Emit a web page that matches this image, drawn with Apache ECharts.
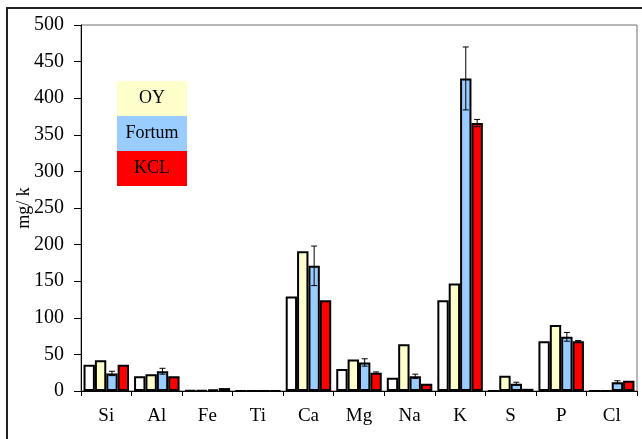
<!DOCTYPE html>
<html>
<head>
<meta charset="utf-8">
<script src="https://cdn.jsdelivr.net/npm/echarts@6/dist/echarts.min.js"></script>
<style>html,body{margin:0;padding:0;background:#fff}#c{width:642px;height:439px}</style>
</head>
<body>
<div id="c"></div>
<script>
var categories = ['Si','Al','Fe','Ti','Ca','Mg','Na','K','S','P','Cl'];
var yTicks = [0,50,100,150,200,250,300,350,400,450,500];
var baseValues   = [36, 20, 1, 0.3, 129, 30, 18, 124, 0, 68, 0];
var oyValues     = [42, 23, 1, 0.3, 191, 43, 64, 147, 21, 90, 0];
var fortumValues = [24, 27, 2, 0.3, 171, 39, 20, 427, 10, 74, 12];
var kclValues    = [36, 20, 4, 0.3, 124, 25, 10, 366, 3, 68, 14];
var fortumErr    = [3, 4, 0, 0, 27, 5, 3, 43, 2, 6, 2];
var kclErr       = [0, 0, 0, 0, 0, 1, 0, 5, 0, 1, 0];

var chart = echarts.init(document.getElementById('c'));
var serif = '"Liberation Serif", "DejaVu Serif", serif';
var barCatGap = 0.1;

function errSeries(name, values, errs, slot) {
  return {
    type: 'custom',
    name: name + ' err',
    z: 10,
    data: values.map(function (v, i) { return [i, v, errs[i]]; }),
    renderItem: function (params, api) {
      var e = api.value(2);
      if (!e) return null;
      var x = api.value(0), v = api.value(1);
      var catW = api.size([1, 0])[0];
      var bw = catW * (1 - barCatGap) / 4;
      var off = (slot - 1.5) * bw;
      var hi = api.coord([x, v + e]);
      var lo = api.coord([x, v - e]);
      var cx = hi[0] + off;
      var cap = 3;
      var st = { stroke: '#000', lineWidth: 1 };
      return { type: 'group', children: [
        { type: 'line', shape: { x1: cx, y1: hi[1], x2: cx, y2: lo[1] }, style: st },
        { type: 'line', shape: { x1: cx - cap, y1: hi[1], x2: cx + cap, y2: hi[1] }, style: st },
        { type: 'line', shape: { x1: cx - cap, y1: lo[1], x2: cx + cap, y2: lo[1] }, style: st }
      ]};
    }
  };
}

function bar(name, values, color) {
  return {
    type: 'bar', name: name, data: values,
    barGap: '0%', barCategoryGap: '10%',
    itemStyle: { color: color, borderColor: '#000', borderWidth: 2 }
  };
}

var legendRich = {};
[['oy', '#FFFFCC'], ['fortum', '#99CCFF'], ['kcl', '#FF0000']].forEach(function (p) {
  legendRich[p[0]] = { backgroundColor: p[1], width: 70, height: 35, lineHeight: 35, align: 'center',
    fontFamily: serif, fontSize: 18, color: '#000' };
});

chart.setOption({
  animation: false,
  backgroundColor: '#fff',
  grid: { left: 81, top: 25, right: 5, bottom: 48, show: true, borderColor: '#707070', borderWidth: 1,
    outerBoundsMode: 'none', containLabel: false },
  legend: {
    orient: 'vertical', left: 111, top: 81, itemGap: 0, itemWidth: 0, itemHeight: 0,
    icon: 'rect', padding: 0, selectedMode: false,
    data: ['OY', 'Fortum', 'KCL'],
    formatter: function (n) { return '{' + n.toLowerCase() + '|' + n + '}'; },
    textStyle: { rich: legendRich }
  },
  xAxis: {
    type: 'category', data: categories,
    axisLine: { lineStyle: { color: '#000', width: 1 } },
    axisTick: { show: true, alignWithLabel: false, length: 5, lineStyle: { color: '#000' } },
    axisLabel: { fontFamily: serif, fontSize: 19, color: '#000', margin: 16 }
  },
  yAxis: {
    type: 'value', min: 0, max: 500, interval: 50,
    name: 'mg/ k', nameLocation: 'middle', nameGap: 48, nameRotate: 90, nameMoveOverlap: false,
    nameTextStyle: { fontFamily: serif, fontSize: 18, color: '#000' },
    axisLine: { show: true, lineStyle: { color: '#000', width: 1 } },
    axisTick: { show: true, inside: false, length: 7, lineStyle: { color: '#000' } },
    splitLine: { show: false },
    axisLabel: { fontFamily: serif, fontSize: 20, color: '#000', margin: 17,
      formatter: function (v) { return yTicks.indexOf(v) >= 0 ? String(v) : ''; } }
  },
  graphic: [{
    type: 'rect', shape: { x: 7, y: 8, width: 700, height: 500 },
    style: { fill: 'none', stroke: '#222', lineWidth: 2 }, silent: true, z: 100
  }],
  series: [
    bar('base', baseValues, '#FFFFFF'),
    bar('OY', oyValues, '#FFFFCC'),
    bar('Fortum', fortumValues, '#99CCFF'),
    bar('KCL', kclValues, '#FF0000'),
    errSeries('Fortum', fortumValues, fortumErr, 2),
    errSeries('KCL', kclValues, kclErr, 3)
  ]
});
</script>
</body>
</html>
